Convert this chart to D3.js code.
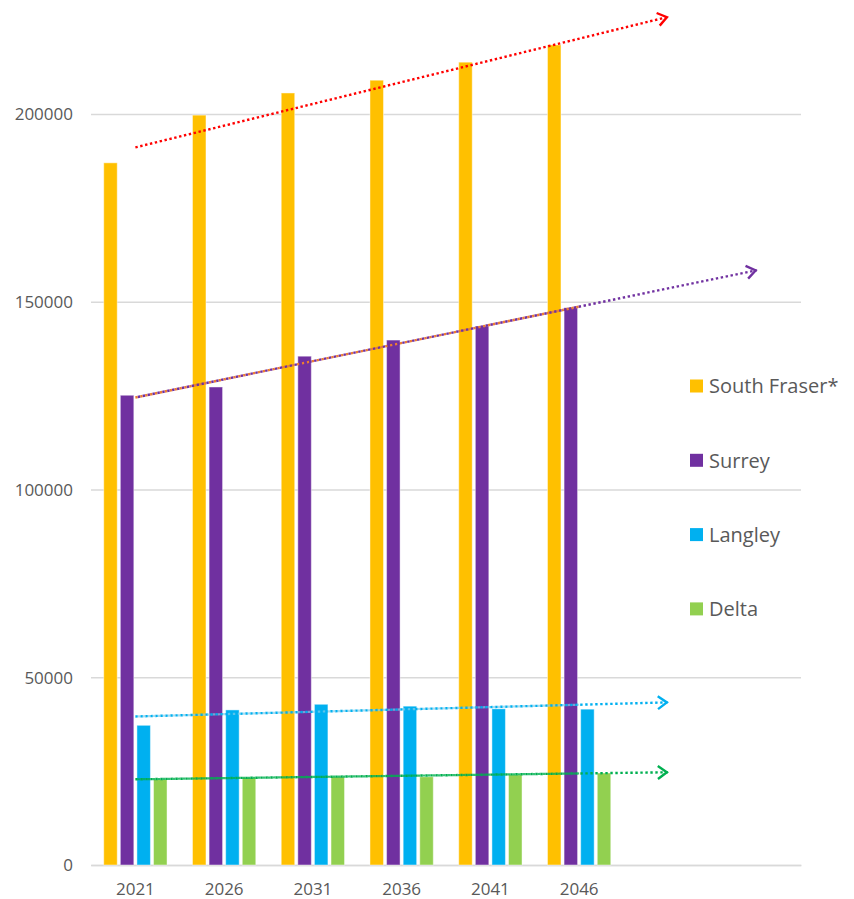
<!DOCTYPE html>
<html>
<head>
<meta charset="utf-8">
<script src="https://cdn.jsdelivr.net/npm/d3@7/dist/d3.min.js"></script>
<style>
  body { margin: 0; background: #ffffff; }
  svg { display: block; }
  text { font-family: "Open Sans", "Noto Sans", sans-serif; fill: #595959; }
</style>
</head>
<body>
<svg id="chart" width="854" height="899"></svg>
<script>
// Population projections by area
const years = ["2021", "2026", "2031", "2036", "2041", "2046"];
const seriesNames = ["South Fraser*", "Surrey", "Langley", "Delta"];
const southFraser = [187000, 199700, 205600, 209000, 213800, 218400];
const surrey = [125100, 127300, 135500, 139800, 143500, 148400];
const langley = [37200, 41300, 42800, 42300, 41600, 41500];
const delta = [22800, 23250, 23500, 23500, 24050, 24500];
const yTicks = [0, 50000, 100000, 150000, 200000];
// periods each linear trendline is projected past the last year
const forecastPeriods = [1, 2, 1, 1];

const seriesValues = [southFraser, surrey, langley, delta];
const barColors = ["#FFC000", "#7030A0", "#00B0F0", "#92D050"];
const trendColors = ["#FF0000", "#7030A0", "#00B0F0", "#00B050"];

const svg = d3.select("#chart");
const plot = { left: 91, right: 801, top: 114, bottom: 865 };
const slots = d3.range(years.length + 2); // two empty slots for the projections

const x0 = d3.scaleBand().domain(slots).range([plot.left, plot.right]).padding(0);
const x1 = d3.scaleBand().domain(seriesNames).range([0, x0.bandwidth()])
  .paddingInner(0.187).paddingOuter(0.767);
const y = d3.scaleLinear().domain([0, 200000]).range([plot.bottom, plot.top]);

// gridlines
svg.append("g")
  .attr("transform", `translate(${plot.left},0)`)
  .call(d3.axisLeft(y).tickValues(yTicks).tickSize(-(plot.right - plot.left)).tickFormat(""))
  .call(g => g.select(".domain").remove())
  .call(g => g.selectAll("line").attr("stroke", "#D9D9D9").attr("stroke-width", 1.3));

// y labels
svg.append("g")
  .attr("transform", `translate(${plot.left - 18},0)`)
  .call(d3.axisLeft(y).tickValues(yTicks).tickSize(0).tickPadding(0).tickFormat(d3.format("d")))
  .call(g => g.select(".domain").remove())
  .call(g => g.selectAll("text")
    .style("font-size", "17px").attr("fill", "#595959").attr("dy", "0.34em"));

// x labels
svg.append("g")
  .attr("transform", `translate(0,${plot.bottom})`)
  .call(d3.axisBottom(x0).tickSize(0).tickPadding(0).tickFormat(i => years[i] || ""))
  .call(g => g.select(".domain").attr("stroke", "#D9D9D9").attr("stroke-width", 1.3))
  .call(g => g.selectAll("text").style("font-size", "17px").attr("fill", "#595959")
    .attr("y", 30).attr("dy", 0));

// bars
const barRows = years.flatMap((yr, i) =>
  seriesNames.map((s, k) => ({ i, s, k, v: seriesValues[k][i] })));

svg.append("g").selectAll("rect").data(barRows).join("rect")
  .attr("x", d => x0(d.i) + x1(d.s))
  .attr("width", x1.bandwidth())
  .attr("y", d => y(d.v))
  .attr("height", d => y(0) - y(d.v))
  .attr("fill", d => barColors[d.k])
  .attr("stroke", "#ffffff").attr("stroke-opacity", 0.45).attr("stroke-width", 1);

// linear trendlines (least squares on the period index)
function fit(vals) {
  const n = vals.length;
  const mx = d3.mean(d3.range(n));
  const my = d3.mean(vals);
  const sxy = d3.sum(vals, (v, i) => (i - mx) * (v - my));
  const sxx = d3.sum(d3.range(n), i => (i - mx) * (i - mx));
  const b = sxy / sxx;
  return i => my + b * (i - mx);
}

const defs = svg.append("defs");
trendColors.forEach((c, k) => {
  defs.append("marker")
    .attr("id", "arrow" + k)
    .attr("viewBox", "-10 -8 14 16")
    .attr("refX", 1).attr("refY", 0)
    .attr("markerUnits", "userSpaceOnUse")
    .attr("markerWidth", 14).attr("markerHeight", 16)
    .attr("orient", "auto")
    .append("path")
    .attr("d", "M-9,-6.5 L0,0 L-9,6.5")
    .attr("fill", "none").attr("stroke", c).attr("stroke-width", 2.4)
    .attr("stroke-linejoin", "miter");
});

const cx = i => x0(i) + x0.bandwidth() / 2;
const trendG = svg.append("g").attr("fill", "none");

seriesValues.forEach((vals, k) => {
  const f = fit(vals);
  const last = vals.length - 1 + forecastPeriods[k];
  const pts = [[cx(0), y(f(0))], [cx(last), y(f(last))]];
  // second trendline over the observed years
  const inner = [[cx(0), y(f(0))], [cx(vals.length - 1), y(f(vals.length - 1))]];
  if (k === 1) {
    trendG.append("path").attr("d", d3.line()(inner))
      .attr("stroke", "#ED7D31").attr("stroke-width", 2.4)
      .attr("stroke-dasharray", "2.4 2.6");
  }
  trendG.append("path")
    .attr("d", d3.line()(pts))
    .attr("stroke", trendColors[k])
    .attr("stroke-width", 2.4)
    .attr("stroke-dasharray", "2.4 2.6")
    .attr("stroke-dashoffset", k === 1 ? 2.5 : 0)
    .attr("marker-end", `url(#arrow${k})`);
  if (k === 2 || k === 3) {
    trendG.append("path").attr("d", d3.line()(inner))
      .attr("stroke", k === 2 ? "#7fcdea" : "#00B050")
      .attr("stroke-width", 2.2)
      .attr("stroke-opacity", k === 2 ? 0.7 : 0.8)
      .attr("stroke-dasharray", "2.4 2.6")
      .attr("stroke-dashoffset", 2.5);
  }
});

// legend
const legend = svg.append("g").attr("transform", "translate(690,386)");
const item = legend.selectAll("g").data(seriesNames).join("g")
  .attr("transform", (d, k) => `translate(0,${k * 74.3})`);
item.append("rect").attr("x", 0).attr("y", -6.5).attr("width", 13).attr("height", 13)
  .attr("fill", (d, k) => barColors[k]);
item.append("text").attr("x", 19).attr("y", 0).attr("dy", "0.36em")
  .style("font-size", "20px").attr("fill", "#595959").text(d => d);
</script>
</body>
</html>
